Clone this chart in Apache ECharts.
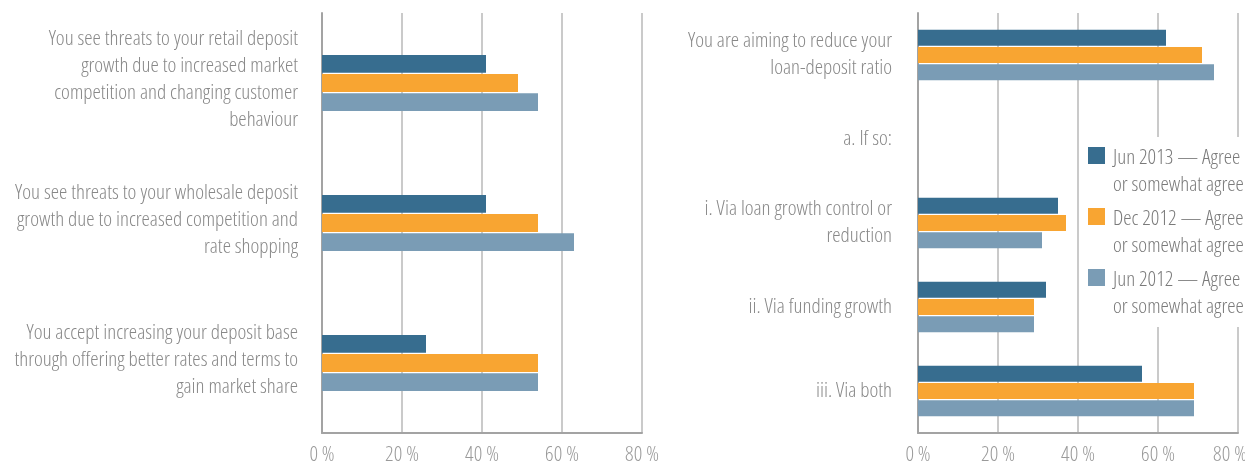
<!DOCTYPE html>
<html>
<head>
<meta charset="utf-8">
<script src="https://cdn.jsdelivr.net/npm/echarts@6/dist/echarts.min.js"></script>
<style>
  html, body { margin: 0; padding: 0; background: #fff; }
  #chart { width: 1245px; height: 467px; }
</style>
</head>
<body>
<div id="chart"></div>
<script>
// Survey answers, share of respondents (%)
const seriesNames = [
  'Jun 2013 — Agree or somewhat agree',
  'Dec 2012 — Agree or somewhat agree',
  'Jun 2012 — Agree or somewhat agree'
];

// Deposit questions (left panel)
const depositCategories = [
  'You see threats to your retail deposit\ngrowth due to increased market\ncompetition and changing customer\nbehaviour',
  'You see threats to your wholesale deposit\ngrowth due to increased competition and\nrate shopping',
  'You accept increasing your deposit base\nthrough offering better rates and terms to\ngain market share'
];
const depositJun2013 = [41, 41, 26];
const depositDec2012 = [49, 54, 54];
const depositJun2012 = [54, 63, 54];

// Loan-deposit ratio questions (right panel)
const ratioCategories = [
  'You are aiming to reduce your\nloan-deposit ratio',
  'a. If so:',
  'i. Via loan growth control or\nreduction',
  'ii. Via funding growth',
  'iii. Via both'
];
const ratioJun2013 = [62, null, 35, 32, 56];
const ratioDec2012 = [71, null, 37, 29, 69];
const ratioJun2012 = [74, null, 31, 29, 69];

const axisTicks = [0, 20, 40, 60, 80];

const colors = ['#376d8f', '#f8a532', '#7a9cb5'];
const FONT = '"Open Sans", Roboto, sans-serif';
const textGray = '#888888';

// All chart text uses the condensed width of the typeface.
(function () {
  const proto = CanvasRenderingContext2D.prototype;
  const desc = Object.getOwnPropertyDescriptor(proto, 'font');
  if (!desc || !('fontStretch' in proto)) return;
  Object.defineProperty(proto, 'font', {
    configurable: true,
    get: function () { return desc.get.call(this); },
    set: function (v) { desc.set.call(this, v); this.fontStretch = 'condensed'; }
  });
})();

function valueAxis(gridIndex, pullInLast) {
  const maxTick = axisTicks[axisTicks.length - 1];
  return {
    type: 'value',
    gridIndex: gridIndex,
    min: axisTicks[0],
    max: maxTick,
    interval: axisTicks[1] - axisTicks[0],
    axisLine: { show: true, lineStyle: { color: '#a3a3a3', width: 2 } },
    axisTick: { show: false },
    splitLine: { show: true, lineStyle: { color: '#cacaca', width: 2 } },
    axisLabel: {
      // the last label of the right panel is nudged left so it stays on the page
      formatter: function (v) {
        return (pullInLast && v === maxTick) ? '{edge|' + v + ' %}' : v + ' %';
      },
      rich: {
        edge: { padding: [0, 16, 0, 0], color: '#9a9a9a', fontFamily: FONT, fontWeight: 300, fontSize: 21 }
      },
      color: '#9a9a9a',
      fontFamily: FONT,
      fontWeight: 300,
      fontSize: 21,
      margin: 12
    }
  };
}

function categoryAxis(gridIndex, data, margin, liftLines) {
  return {
    type: 'category',
    gridIndex: gridIndex,
    data: data,
    inverse: true,
    axisLine: { show: true, lineStyle: { color: '#a3a3a3', width: 2 } },
    axisTick: { show: false },
    axisLabel: {
      // an optional thin spacer line below lifts the text block slightly
      formatter: function (v) { return liftLines ? v + '\n{gap| }' : v; },
      rich: { gap: { fontSize: 1, lineHeight: 6 } },
      color: textGray,
      fontFamily: FONT,
      fontWeight: 300,
      fontSize: 21,
      lineHeight: 27,
      margin: margin,
      align: 'right'
    }
  };
}

function barSeries(name, idx, values, gridIdx, catGap) {
  return {
    name: name,
    type: 'bar',
    xAxisIndex: gridIdx,
    yAxisIndex: gridIdx,
    data: values,
    barCategoryGap: catGap,
    barGap: '7%',
    itemStyle: { color: colors[idx] },
    emphasis: { disabled: true }
  };
}

const chart = echarts.init(document.getElementById('chart'), null, { renderer: 'canvas' });

chart.setOption({
  animation: false,
  backgroundColor: '#ffffff',
  textStyle: { fontFamily: FONT },
  grid: [
    { left: 322, right: 603, top: 13, bottom: 34, outerBoundsMode: 'none', containLabel: false },
    { left: 918, right: 7, top: 13, bottom: 34, outerBoundsMode: 'none', containLabel: false }
  ],
  xAxis: [valueAxis(0, false), valueAxis(1, true)],
  yAxis: [
    categoryAxis(0, depositCategories, 24, true),
    categoryAxis(1, ratioCategories, 26, false)
  ],
  legend: {
    orient: 'vertical',
    left: 1082,
    top: 137,
    data: seriesNames,
    icon: 'rect',
    itemWidth: 17,
    itemHeight: 17,
    itemGap: -26,
    padding: [-25, 2, 6, 6],
    backgroundColor: '#ffffff',
    selectedMode: false,
    // a spacer line on top keeps the first text line level with the swatch
    formatter: function (name) {
      const parts = name.split(' or ');
      return '{gap| }\n{t|' + parts[0] + '}\n{t|or ' + parts[1] + '}';
    },
    textStyle: {
      color: '#7a7a7a',
      fontFamily: FONT,
      fontWeight: 300,
      fontSize: 21,
      lineHeight: 27,
      rich: {
        gap: { fontSize: 1, lineHeight: 33 },
        t: {
          color: '#7a7a7a',
          fontFamily: FONT,
          fontWeight: 300,
          fontSize: 21,
          lineHeight: 27,
          padding: [0, 0, 0, 3]
        }
      }
    }
  },
  series: [
    barSeries(seriesNames[0], 0, depositJun2013, 0, '60%'),
    barSeries(seriesNames[1], 1, depositDec2012, 0, '60%'),
    barSeries(seriesNames[2], 2, depositJun2012, 0, '60%'),
    barSeries(seriesNames[0], 0, ratioJun2013, 1, '40%'),
    barSeries(seriesNames[1], 1, ratioDec2012, 1, '40%'),
    barSeries(seriesNames[2], 2, ratioJun2012, 1, '40%')
  ]
});
</script>
</body>
</html>
